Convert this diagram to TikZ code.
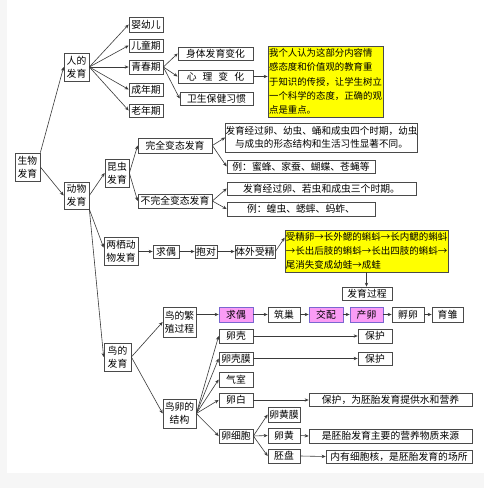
\documentclass[tikz,border=0pt]{standalone}
\usepackage{fontspec}
\newfontfamily\cjkf{Noto Sans CJK SC}
\usetikzlibrary{arrows.meta,calc}
\definecolor{bggray}{HTML}{F6F6F6}
\definecolor{linec}{HTML}{3A3A3A}
\definecolor{boxc}{HTML}{4A4A4A}
\definecolor{pinkf}{HTML}{FA9CF5}
\definecolor{pinkd}{HTML}{7A66D0}
\definecolor{yel}{HTML}{FFFF00}
\newcommand{\mybox}[7][]{\node[box,#1,minimum width={(#5-#3)*1pt},minimum height={(#6-#4)*1pt}] (#2) at ({(#3+#5)/2},{(#4+#6)/2}) {#7};}
\begin{document}
\begin{tikzpicture}[x=1pt,y=-1pt,
  box/.style={draw=boxc,line width=0.7pt,fill=white,inner sep=0pt,align=center,text=black,
    font=\cjkf\fontsize{9.8}{12.8}\selectfont},
  pinkbox/.style={fill=pinkf,draw=pinkd},
  yelbox/.style={fill=yel,draw=boxc,align=left},
  arr/.style={draw=linec,line width=0.6pt,-{Stealth[length=4pt,width=3.4pt]}}]
\useasboundingbox (0,0) rectangle (484,488);
\fill[bggray] (0,0) rectangle (484,488);
\fill[white] (7,0) rectangle (484,473);
% left column
\mybox{sw}{15}{153}{40}{181}{生物\\发育}
\mybox{ren}{64}{53}{89}{81}{人的\\发育}
\mybox{dw}{64}{182}{89}{209}{动物\\发育}
% human
\mybox{yy}{129}{17}{163}{32}{婴幼儿}
\mybox{et}{129}{39}{163}{52}{儿童期}
\mybox{qc}{129}{60}{163}{74}{青春期}
\mybox{cn}{129}{83}{163}{96}{成年期}
\mybox{ln}{129}{104}{163}{117}{老年期}
\mybox{st}{178}{47}{253}{60}{身体发育变化}
\mybox{xl}{178}{70}{253}{83}{心\hspace{6pt}理\hspace{6pt}变\hspace{6pt}化}
\mybox{ws}{180}{92}{253}{105}{卫生保健习惯}
\mybox[yelbox,font=\cjkf\fontsize{9.4}{14.2}\selectfont]{ya}{268}{46}{383}{117}{我个人认为这部分内容情\\感态度和价值观的教育重\\于知识的传授，让学生树立\\一个科学的态度，正确的观\\点是重点。}
% insects
\mybox{kc}{105}{159}{129}{187}{昆虫\\发育}
\mybox{wq}{138}{138}{212}{153}{完全变态发育}
\mybox{bw}{138}{194}{212}{208}{不完全变态发育}
\mybox[font=\cjkf\fontsize{9.6}{13.5}\selectfont]{da}{227}{123}{416}{152}{发育经过卵、幼虫、蛹和成虫四个时期，幼虫\\与成虫的形态结构和生活习性显著不同。}
\mybox{db}{227}{160}{375}{173}{例：蜜蜂、家蚕、蝴蝶、苍蝇等}
\mybox{dc}{227}{182}{416}{195}{发育经过卵、若虫和成虫三个时期。}
\mybox{dd}{227}{202}{375}{216}{例：蝗虫、蟋蟀、蚂蚱、}
% amphibians
\mybox{lq}{104}{237}{138}{265}{两栖动\\物发育}
\mybox{qoa}{153}{245}{179}{258}{求偶}
\mybox{bd}{195}{245}{217}{258}{抱对}
\mybox{tw}{235}{245}{275}{258}{体外受精}
\mybox[yelbox,font=\cjkf\fontsize{9.5}{14}\selectfont]{yb}{285}{230}{448}{272}{受精卵→长外鳃的蝌蚪→长内鳃的蝌蚪\\→长出后肢的蝌蚪→长出四肢的蝌蚪→\\尾消失变成幼蛙→成蛙}
\mybox{fy}{342}{287}{392}{300}{发育过程}
% birds
\mybox{nd}{104}{343}{131}{371}{鸟的\\发育}
\mybox{fz}{163}{307}{196}{337}{鸟的繁\\殖过程}
\mybox[pinkbox]{qob}{219}{307}{253}{322}{求偶}
\mybox{zc}{268}{307}{300}{322}{筑巢}
\mybox[pinkbox]{jp}{309}{307}{343}{322}{交配}
\mybox[pinkbox]{cl}{350}{307}{383}{322}{产卵}
\mybox{fl}{392}{307}{424}{322}{孵卵}
\mybox{yc}{432}{307}{463}{322}{育雏}
\mybox{jg}{163}{399}{196}{428}{鸟卵的\\结构}
\mybox{lk}{219}{329}{253}{343}{卵壳}
\mybox{lkm}{219}{352}{253}{365}{卵壳膜}
\mybox{qs}{219}{372}{253}{387}{气室}
\mybox{lb}{219}{393}{253}{407}{卵白}
\mybox{lx}{219}{429}{253}{443}{卵细胞}
\mybox{lhm}{268}{407}{300}{422}{卵黄膜}
\mybox{lh}{268}{428}{300}{443}{卵黄}
\mybox{pp}{268}{449}{300}{463}{胚盘}
\mybox{bha}{358}{329}{392}{343}{保护}
\mybox{bhb}{358}{352}{392}{365}{保护}
\mybox{ea}{309}{393}{472}{406}{保护，为胚胎发育提供水和营养}
\mybox{eb}{309}{429}{472}{443}{是胚胎发育主要的营养物质来源}
\mybox{ec}{326}{450}{472}{463}{内有细胞核，是胚胎发育的场所}
% connectors
\draw[arr] (sw.north east) -- (ren.west);
\draw[arr] (sw.east) -- (dw.west);
\foreach \t in {yy,et,qc,cn,ln} \draw[arr] (ren.east) -- (\t.west);
\foreach \t in {st,xl,ws} \draw[arr] (qc.east) -- (\t.west);
\draw[arr] (xl.east) -- (xl.east -| ya.west);
\draw[arr] (dw.east) -- (kc.west);
\draw[arr] (dw.south east) -- ($(lq.north west)+(0,11)$);
\draw[arr] (dw.south east) -- (nd.west);
\draw[arr] (kc.east) -- (wq.west);
\draw[arr] (kc.east) -- (bw.west);
\draw[arr] (wq.east) -- (da.west);
\draw[arr] (wq.east) -- (db.west);
\draw[arr] (bw.east) -- (dc.west);
\draw[arr] (bw.east) -- (dd.west);
\draw[arr] (lq.east |- qoa.west) -- (qoa.west);
\draw[arr] (qoa.east) -- (bd.west);
\draw[arr] (bd.east) -- (tw.west);
\draw[arr] (tw.east) -- ($(yb.north west)+(0,8)$);
\draw[arr] (yb.south) -- (yb.south |- fy.north);
\draw[arr] (nd.east) -- (fz.west);
\draw[arr] (nd.east) -- (jg.west);
\draw[arr] (fz.east |- qob.west) -- (qob.west);
\draw[arr] (qob.east) -- (zc.west);
\draw[arr] (zc.east) -- (jp.west);
\draw[arr] (jp.east) -- (cl.west);
\draw[arr] (cl.east) -- (fl.west);
\draw[arr] (fl.east) -- (yc.west);
\foreach \t in {lk,lkm,qs,lb,lx} \draw[arr] (jg.east) -- (\t.west);
\foreach \t in {lhm,lh,pp} \draw[arr] (lx.east) -- (\t.west);
\draw[arr] (lk.east) -- (bha.west);
\draw[arr] (lkm.east) -- (bhb.west);
\draw[arr] (lb.east) -- (lb.east -| ea.west);
\draw[arr] (lh.east) -- (eb.west);
\draw[arr] (pp.east) -- (ec.west);
\end{tikzpicture}
\end{document}
